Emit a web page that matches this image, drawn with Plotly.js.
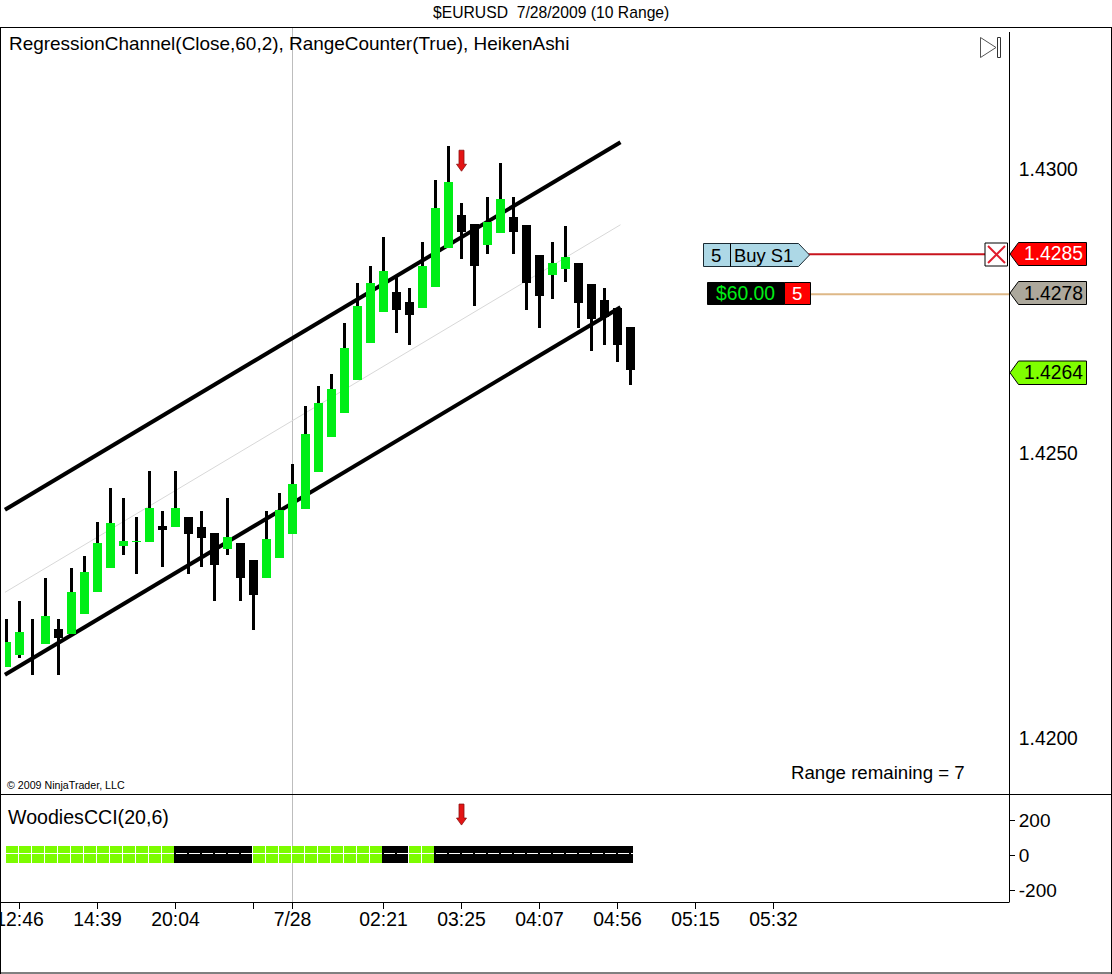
<!DOCTYPE html>
<html><head><meta charset="utf-8">
<script src="https://cdn.plot.ly/plotly-3.0.1.min.js"></script>
<style>html,body{margin:0;padding:0;background:#fff;overflow:hidden}#chart{width:1112px;height:974px}</style>
</head><body><div id="chart"></div>
<script>
// Heiken-Ashi candles, one entry per 10-range bar
const opens  = [1.42124,1.42145,1.42142,1.42165,1.42191,1.42182,1.42218,1.42256,1.42299,1.42338,1.42344,1.42344,1.42373,1.42370,1.42388,1.42371,1.42361,1.42332,1.42342,1.42312,1.42281,1.42316,1.42358,1.42402,1.42467,1.42529,1.42571,1.42629,1.42694,1.42748,1.42784,1.42767,1.42755,1.42792,1.42861,1.42920,1.42904,1.42866,1.42887,1.42916,1.42902,1.42849,1.42813,1.42824,1.42835,1.42798,1.42769,1.42756,1.42723];
const highs  = [1.42210,1.42240,1.42210,1.42281,1.42210,1.42299,1.42320,1.42380,1.42440,1.42421,1.42389,1.42470,1.42399,1.42470,1.42388,1.42399,1.42361,1.42421,1.42342,1.42312,1.42399,1.42430,1.42481,1.42583,1.42619,1.42640,1.42730,1.42800,1.42830,1.42881,1.42811,1.42790,1.42871,1.42981,1.43041,1.42941,1.42904,1.42950,1.43011,1.42950,1.42902,1.42849,1.42871,1.42900,1.42835,1.42798,1.42790,1.42756,1.42723];
const lows   = [1.42124,1.42141,1.42111,1.42165,1.42111,1.42182,1.42218,1.42256,1.42299,1.42322,1.42289,1.42344,1.42300,1.42370,1.42289,1.42300,1.42240,1.42321,1.42240,1.42189,1.42281,1.42316,1.42358,1.42402,1.42467,1.42529,1.42571,1.42629,1.42694,1.42748,1.42711,1.42690,1.42755,1.42792,1.42861,1.42841,1.42760,1.42850,1.42887,1.42850,1.42752,1.42720,1.42771,1.42801,1.42720,1.42681,1.42690,1.42660,1.42620];
const closes = [1.42168,1.42186,1.42143,1.42215,1.42175,1.42256,1.42292,1.42342,1.42377,1.42347,1.42346,1.42404,1.42366,1.42405,1.42358,1.42351,1.42304,1.42353,1.42282,1.42251,1.42350,1.42400,1.42446,1.42534,1.42589,1.42613,1.42685,1.42760,1.42800,1.42820,1.42752,1.42743,1.42829,1.42931,1.42978,1.42889,1.42830,1.42906,1.42948,1.42889,1.42799,1.42777,1.42835,1.42846,1.42764,1.42737,1.42740,1.42691,1.42647];

// Regression channel end points: [start, end]
const channelX     = [-0.12, 47.23];
const channelUpper = [1.42401, 1.43047];
const channelMid   = [1.42256, 1.42902];
const channelLower = [1.42111, 1.42757];

// Woodies CCI panel: 1 = bullish cell, 0 = bearish cell
const cciState = [1,1,1,1,1,1,1,1,1,1,1,1,1,0,0,0,0,0,0,1,1,1,1,1,1,1,1,1,1,0,0,1,1,0,0,0,0,0,0,0,0,0,0,0,0,0,0,0,0];
const cciTop = 51, cciBottom = -44;

const xTickVals = [1,7,13,19,22,29,35,41,47,53,59];
const xTickText = ['12:46','14:39','20:04','','7/28','02:21','03:25','04:07','04:56','05:15','05:32'];
const priceTicks = [1.42,1.425,1.43];
const priceTickText = ['1.4200','1.4250','1.4300'];
const cciTicks = [-200,0,200];
const signalBar = 35, signalPrice = 1.43033, signalCci = 291;
const stopPrice = 1.4285, positionPrice = 1.4278, lastPrice = 1.4264;

const W=1112,H=974;
const px=x=>x/W, py=y=>1-y/H;
const FS=18.67, FS2=19.3, FONT='"Liberation Sans", Arial, sans-serif';
const GREEN='#00ee16', LAWN='#7cfc00';
const idx=opens.map((_,i)=>i);
const tops=opens.map((o,i)=>Math.max(o,closes[i]));
const bots=opens.map((o,i)=>Math.min(o,closes[i]));

const traces=[
 {type:'scatter',mode:'lines',x:channelX,y:channelMid,xaxis:'x',yaxis:'y',line:{color:'#d8d8d8',width:1},hoverinfo:'skip',showlegend:false},
 {type:'scatter',mode:'lines',x:channelX,y:channelUpper,xaxis:'x',yaxis:'y',line:{color:'#000',width:4},hoverinfo:'skip',showlegend:false},
 {type:'scatter',mode:'lines',x:channelX,y:channelLower,xaxis:'x',yaxis:'y',line:{color:'#000',width:4},hoverinfo:'skip',showlegend:false},
 {type:'bar',x:idx,base:lows,y:highs.map((h,i)=>h-lows[i]),width:3/13,xaxis:'x',yaxis:'y3',marker:{color:'#000',line:{width:0}},showlegend:false,hoverinfo:'skip'},
 // the first body is cut by the left edge of the drawing area
 {type:'bar',x:idx,base:bots,y:tops.map((t,i)=>Math.max(t-bots[i],0.00001)),width:idx.map(i=>i===0?6/13:9/13),offset:idx.map(i=>i===0?-1.5/13:-4.5/13),xaxis:'x',yaxis:'y3',
  marker:{color:opens.map((o,i)=>closes[i]>=o?GREEN:'#000'),line:{width:0}},showlegend:false,hoverinfo:'skip'},
 // CCI cells
 {type:'bar',x:idx,base:idx.map(()=>cciBottom),y:idx.map(()=>cciTop-cciBottom),
  width:idx.map(i=>i===48?4/13:1),offset:-1.5/13,xaxis:'x2',yaxis:'y2',
  marker:{color:cciState.map(s=>s?LAWN:'#000'),line:{width:0}},showlegend:false,hoverinfo:'skip'},
 // white centre line of each cell
 {type:'bar',x:idx,base:idx.map(()=>6.5),y:idx.map(()=>5.7),
  width:idx.map(i=>i===48?3/13:(cciState[i]?1:11/13)),offset:idx.map(i=>(cciState[i]?-1.5:0.5)/13),xaxis:'x2',yaxis:'y2',
  marker:{color:'#fff',line:{width:0}},showlegend:false,hoverinfo:'skip'},
 // white separators of the bullish cells
 {type:'bar',x:idx.filter(i=>cciState[i]),base:idx.filter(i=>cciState[i]).map(()=>cciBottom),y:idx.filter(i=>cciState[i]).map(()=>cciTop-cciBottom),
  width:1/13,offset:-1.5/13,xaxis:'x2',yaxis:'y2',marker:{color:'#fff',line:{width:0}},showlegend:false,hoverinfo:'skip'}
];

const pxRange=[(1-6.5)/13,(1009-6.5)/13];
const mainRange=[1.43-(794-169)*1.7575e-5,1.43+(169-27)*1.7575e-5];
const cciRange=[(855-902)/35*200,(855-794)/35*200];
const xDom=[px(1),px(1009)];

function hline(x0,y0,x1,y1,color,w,layer){return {type:'line',xref:'paper',yref:'paper',layer:layer||'above',x0:px(x0),x1:px(x1),y0:py(y0),y1:py(y1),line:{color:color||'#000',width:w||1}};}
function poly(pts,fill,lc,w){return {type:'path',xref:'paper',yref:'paper',path:'M'+pts.map(p=>px(p[0])+','+py(p[1])).join(' L')+' Z',fillcolor:fill,line:{color:lc||'#000',width:w===undefined?1:w}};}
function level(p,x0,x1,color,w){return {type:'line',xref:'paper',yref:'y',x0:px(x0),x1:px(x1),y0:p,y1:p,line:{color:color,width:w}};}
function tag(t,b,fill){return poly([[1010,(t+b)/2],[1018.5,t],[1086.5,t],[1086.5,b],[1018.5,b]],fill);}
function arrow(yref,val){return {type:'path',xref:'x2',xsizemode:'pixel',xanchor:signalBar,yref:yref,ysizemode:'pixel',yanchor:val,
  path:'M-2.5,0 L2.5,0 L2.5,-14 L5,-14 L0,-21 L-5,-14 L-2.5,-14 Z',fillcolor:'#e41414',line:{color:'#8a1010',width:0.8}};}

const shapes=[
 hline(0,27.5,1112,27.5), hline(0,794.5,1112,794.5), hline(0,902.5,1009,902.5), hline(0,973,1112,973),
 hline(0.5,27,0.5,974), hline(1111.5,27,1111.5,974), hline(1009.5,32,1009.5,902.5),
 hline(292.5,27,292.5,902,'#bdbdbd',1,'below'),
 level(stopPrice,808,985,'#c8141e',2), level(positionPrice,810,1009,'#deb887',2),
 poly([[703.5,243.5],[798.5,243.5],[809.5,255],[798.5,266.5],[703.5,266.5]],'#add8e6','#1a2a33'),
 hline(730.5,243.5,730.5,266.5,'#000',1),
 poly([[707.5,282.5],[784.5,282.5],[784.5,304.5],[707.5,304.5]],'#000','#000'),
 poly([[784.5,282.5],[810.5,282.5],[810.5,304.5],[784.5,304.5]],'#ff0000','#000'),
 poly([[985,243],[1007.5,243],[1007.5,266],[985,266]],'#fff','#000'),
 hline(988,246,1005,263,'#e01c2c',2), hline(1005,246,988,263,'#e01c2c',2),
 tag(242.5,265.5,'#ff0000'), tag(281.5,304.5,'#aca89c'), tag(361,384.5,'#7fff00'),
 poly([[980.5,37.5],[996,47.5],[980.5,57.5]],'#fff','#555'),
 poly([[997.5,37.5],[1000.5,37.5],[1000.5,57.5],[997.5,57.5]],'#fff','#333'),
 arrow('y',signalPrice), arrow('y2',signalCci)
];

function label(x,y,text,opts){opts=opts||{};return {xref:'paper',yref:'paper',x:px(x),y:py(y),text:text,showarrow:false,
  xanchor:opts.anchor||'left',yanchor:'middle',borderpad:0,borderwidth:0,font:{family:FONT,size:opts.size||FS,color:opts.color||'#000'}};}
const annotations=[
 label(551,13,'$EURUSD&nbsp;&nbsp;7/28/2009 (10 Range)',{anchor:'center',size:15.7}),
 label(9,43.5,'RegressionChannel(Close,60,2), RangeCounter(True), HeikenAshi',{size:18.94}),
 label(7,785,'© 2009 NinjaTrader, LLC',{size:10.67}),
 label(791,772,'Range remaining = 7'),
 label(8,817,'WoodiesCCI(20,6)',{size:19.6}),
 label(716,255,'5',{anchor:'center'}),
 label(734,255,'Buy S1',{size:18.4}),
 label(745.5,293.5,'$60.00',{anchor:'center',color:GREEN,size:FS2}),
 label(797,293.5,'5',{anchor:'center',color:'#fff'}),
 label(1024,254,stopPrice.toFixed(4),{color:'#fff',size:FS2}),
 label(1024,293,positionPrice.toFixed(4),{size:FS2}),
 label(1024,372,lastPrice.toFixed(4),{size:FS2})
];

const layout={
 width:W,height:H,margin:{l:0,r:0,t:0,b:0},paper_bgcolor:'#fff',plot_bgcolor:'#fff',showlegend:false,
 barmode:'overlay',bargap:0,
 xaxis:{domain:xDom,range:pxRange,anchor:'y',visible:false,fixedrange:true},
 yaxis:{domain:[py(794),py(27)],range:mainRange,side:'right',anchor:'x',showgrid:false,zeroline:false,showline:false,
   tickmode:'array',tickvals:priceTicks,ticktext:priceTickText,ticks:'outside',ticklen:5,tickcolor:'rgba(0,0,0,0)',tickfont:{family:FONT,size:FS2,color:'#000'},fixedrange:true},
 yaxis3:{overlaying:'y',range:mainRange,side:'right',visible:false,fixedrange:true},
 xaxis2:{domain:xDom,range:pxRange,anchor:'y2',showgrid:false,zeroline:false,showline:false,
   tickmode:'array',tickvals:xTickVals,ticktext:xTickText,ticks:'outside',ticklen:6,tickcolor:'#000',tickwidth:1,ticklabeloverflow:'allow',ticklabelstandoff:-6,
   tickangle:0,tickfont:{family:FONT,size:19.4,color:'#000'},fixedrange:true},
 yaxis2:{domain:[py(902),py(794)],range:cciRange,side:'right',anchor:'x2',showgrid:false,zeroline:false,showline:false,
   tickmode:'array',tickvals:cciTicks,ticktext:['-200','0','200'],ticks:'outside',ticklen:5,tickcolor:'#000',tickwidth:1,tickfont:{family:FONT,size:19,color:'#000'},fixedrange:true},
 shapes:shapes,annotations:annotations
};
Plotly.newPlot('chart',traces,layout,{displayModeBar:false,staticPlot:true});
</script></body></html>
